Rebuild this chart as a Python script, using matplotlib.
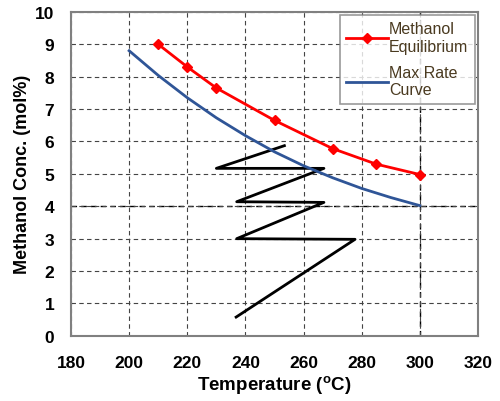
import matplotlib
matplotlib.use("Agg")
import matplotlib.pyplot as plt

plt.rcParams['font.family'] = ['Liberation Sans', 'DejaVu Sans']
plt.rcParams['mathtext.fontset'] = 'custom'
plt.rcParams['mathtext.rm'] = 'Liberation Sans:bold'
plt.rcParams['mathtext.bf'] = 'Liberation Sans:bold'

# Methanol equilibrium curve
eq_temp = [210, 220, 230, 250, 270, 285, 300]
eq_conc = [9.0, 8.3, 7.65, 6.65, 5.78, 5.3, 4.98]

# Max rate curve
rate_temp = [200, 210, 220, 230, 240, 250, 260, 270, 280, 290, 300]
rate_conc = [8.8, 8.04, 7.35, 6.73, 6.18, 5.68, 5.25, 4.88, 4.55, 4.27, 4.02]

# Reactor staircase path
path_temp = [236.8, 277.7, 237, 267, 237, 267, 230, 253.4]
path_conc = [0.58, 2.98, 3.0, 4.12, 4.14, 5.17, 5.17, 5.87]

fig = plt.figure(figsize=(5.0, 4.02), dpi=100)
ax = fig.add_axes([0.142, 0.162, 0.814, 0.806])

ax.plot(eq_temp, eq_conc, color='#ff0000', lw=2, marker='D', ms=5,
        label='Methanol\nEquilibrium', zorder=4)
ax.plot(rate_temp, rate_conc, color='#2f5597', lw=2, label='Max Rate\nCurve', zorder=3)
ax.plot(path_temp, path_conc, color='black', lw=2, zorder=2)

ax.set_xlim(180, 320)
ax.set_ylim(0, 10)
ax.set_xticks(range(180, 321, 20))
ax.set_yticks(range(0, 11))
ax.grid(True, color='#444444', ls=(0, (4, 3)), lw=0.8)
ax.axhline(4, color='black', ls=(0, (4, 3)), lw=1.0, zorder=1)
ax.axvline(300, color='black', ls=(0, (4, 3)), lw=1.0, zorder=1)
ax.tick_params(axis='x', length=0, labelsize=12.5, pad=14)
ax.tick_params(axis='y', length=0, labelsize=12.5, pad=12)
for lab in ax.get_xticklabels() + ax.get_yticklabels():
    lab.set_fontweight('bold')
for s in ax.spines.values():
    s.set_color('#808080')
    s.set_linewidth(1.5)

ax.set_xlabel(r'Temperature ($^{\mathbf{o}}$C)', fontsize=13.5, fontweight='bold', labelpad=2)
ax.set_ylabel('Methanol Conc. (mol%)', fontsize=13, fontweight='bold', labelpad=3)

leg = ax.legend(loc='upper right', fontsize=11.5, frameon=True, fancybox=False,
                edgecolor='#808080', handlelength=2.6, handletextpad=0.1,
                borderaxespad=0.2, labelspacing=0.7, borderpad=0.4)
leg.get_frame().set_linewidth(1.2)
for t in leg.get_texts():
    t.set_color('#4a3a20')

fig.savefig('out.png', dpi=100)
